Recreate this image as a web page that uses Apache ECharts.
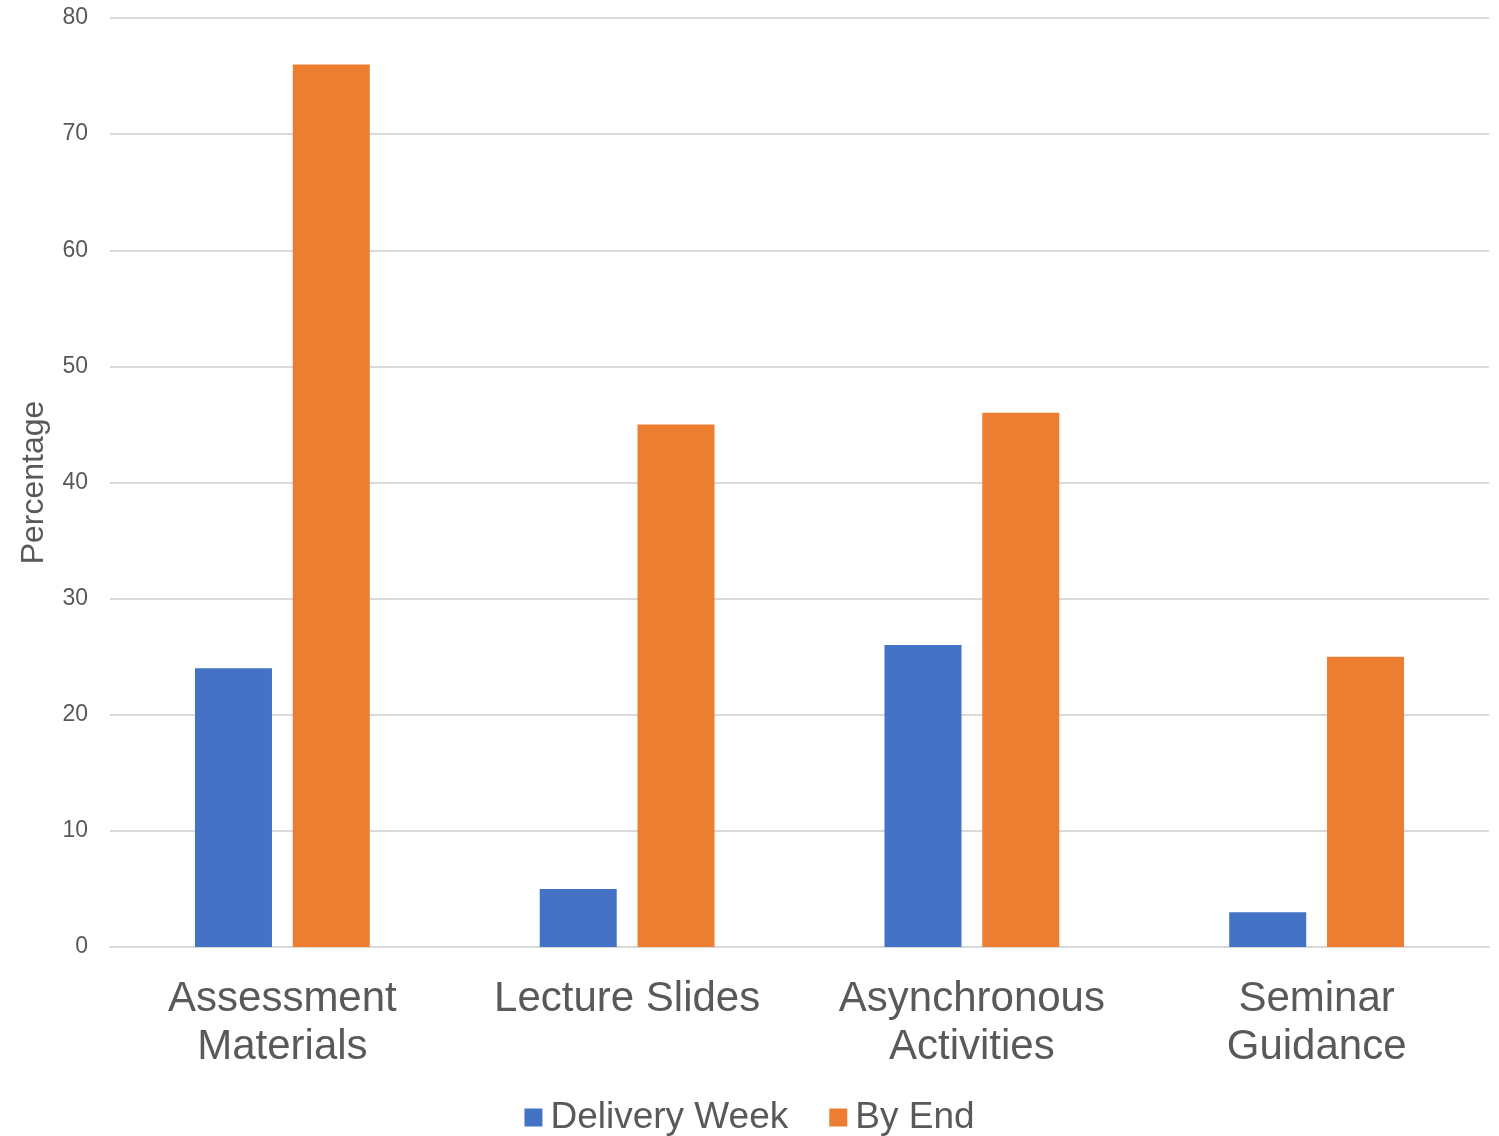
<!DOCTYPE html>
<html>
<head>
<meta charset="utf-8">
<script src="https://cdn.jsdelivr.net/npm/echarts@6/dist/echarts.min.js"></script>
<style>
  html, body { margin: 0; padding: 0; background: #fff; }
  #chart { width: 1499px; height: 1136px; }
</style>
</head>
<body>
<div id="chart"></div>
<script>
// Share of resources accessed, by resource type
const categories = ['Assessment\nMaterials', 'Lecture Slides', 'Asynchronous\nActivities', 'Seminar\nGuidance'];
const deliveryWeek = [24, 5, 26, 3];
const byEnd = [76, 45, 46, 25];
const seriesNames = ['Delivery Week', 'By End'];

const textColor = '#595959';
const font = '"Liberation Sans", Arial, sans-serif';

const chart = echarts.init(document.getElementById('chart'));
chart.setOption({
  animation: false,
  textStyle: { fontFamily: font },
  grid: { left: 110, right: 10, top: 18, bottom: 189, outerBoundsMode: 'none', containLabel: false },
  legend: {
    data: seriesNames,
    bottom: -5,
    left: 'center',
    itemWidth: 18,
    itemHeight: 18,
    itemGap: 41,
    icon: 'rect',
    textStyle: { color: textColor, fontSize: 37, fontFamily: font, padding: [0, 0, 0, 3] }
  },
  xAxis: {
    type: 'category',
    data: categories,
    axisLine: { lineStyle: { color: '#D9D9D9', width: 2 } },
    axisTick: { show: false },
    axisLabel: {
      color: textColor,
      fontSize: 42,
      lineHeight: 48,
      margin: 28,
      interval: 0,
      fontFamily: font
    }
  },
  yAxis: {
    type: 'value',
    min: 0,
    max: 80,
    interval: 10,
    name: 'Percentage',
    nameLocation: 'middle',
    nameGap: 60,
    nameRotate: 90,
    nameTextStyle: { color: textColor, fontSize: 32, fontFamily: font },
    axisLine: { show: false },
    axisTick: { show: false },
    splitLine: { lineStyle: { color: '#D9D9D9', width: 2 } },
    axisLabel: { color: textColor, fontSize: 23, margin: 22, fontFamily: font }
  },
  series: [
    {
      name: seriesNames[0],
      type: 'bar',
      data: deliveryWeek,
      barWidth: 77,
      barGap: '27%',
      itemStyle: { color: '#4472C4' }
    },
    {
      name: seriesNames[1],
      type: 'bar',
      data: byEnd,
      barWidth: 77,
      barGap: '27%',
      itemStyle: { color: '#ED7D31' }
    }
  ]
});
</script>
</body>
</html>
